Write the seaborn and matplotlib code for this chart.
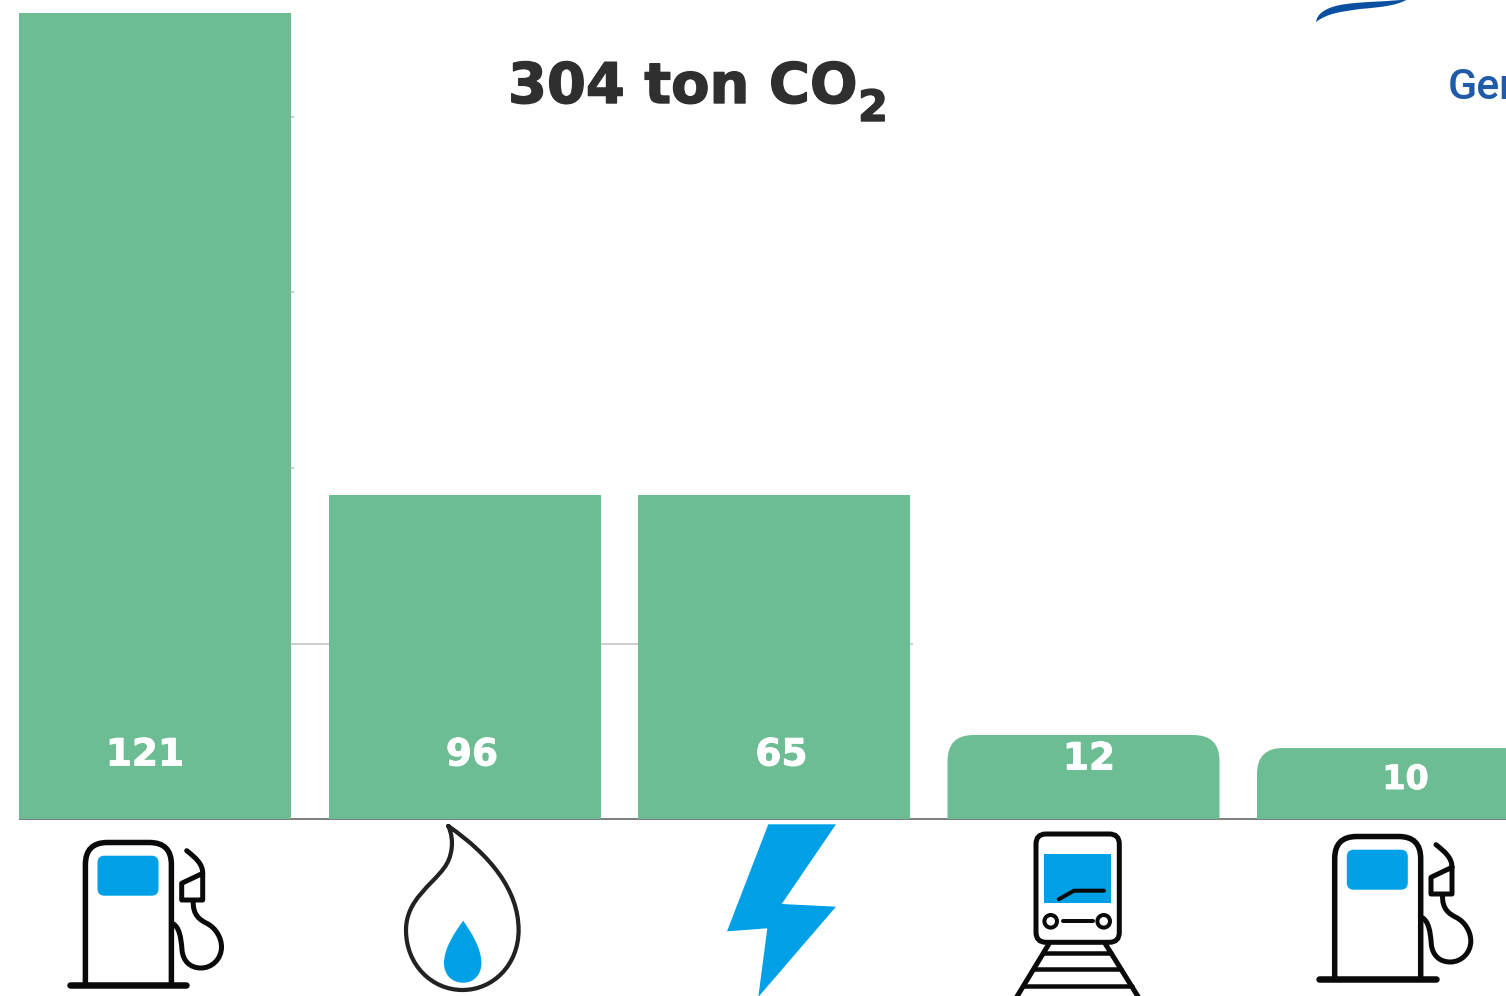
import matplotlib
matplotlib.use('Agg')
import matplotlib.pyplot as plt
import matplotlib.patheffects as pe
import seaborn as sns
import pandas as pd
from matplotlib.path import Path
from matplotlib.patches import PathPatch, FancyBboxPatch, Circle, Polygon

# --- Data ---
categories = ['Benzine', 'Aardgas', 'Elektriciteit', 'Trein', 'Diesel']
bar_heights = [458.7, 184.4, 184.4, 47.8, 40.4]   # drawn height, gridlines every 100
value_labels = ['121', '96', '65', '12', '10']
grid_levels = [100, 200, 300, 400]
title_text = '304 ton CO'
subscript_text = '2'
logo_text = 'Gen'

# --- Configuration ---
W, H = 1506, 996
BAR_COLOR = '#6CBD93'
BLUE = '#00A0E6'
BLACK = '#0A0A0A'
LOGO_BLUE = '#0B50A0'
PX = 0.72  # one pixel in points at dpi 100

BASE_Y = 819          # pixel row of value 0
UNIT_Y = 1.757        # pixels per value unit
STEP_X = 309.5        # pixels between bar centres
FIRST_X = 155         # pixel column of first bar centre

# label pixel positions (centre x, centre y, font size)
label_pos = [(145, 751.5, 27), (472, 751.5, 27), (781.5, 751.5, 27), (1089, 755.5, 27), (1405.5, 776, 24)]


def top_rounded(x0, x1, top, bottom, rx, ry=None):
    # closed outline with rounded top corners
    ry = rx if ry is None else ry
    sign = 1 if bottom > top else -1
    verts = [(x0, bottom), (x0, top + sign * ry), (x0, top), (x0 + rx, top),
             (x1 - rx, top), (x1, top), (x1, top + sign * ry), (x1, bottom)]
    codes = [Path.MOVETO, Path.LINETO, Path.CURVE3, Path.CURVE3,
             Path.LINETO, Path.CURVE3, Path.CURVE3, Path.LINETO]
    return Path(verts, codes)


def stroke(ax, verts, codes=None, lw=4.5, color=BLACK):
    ax.add_patch(PathPatch(Path(verts, codes), fill=False, edgecolor=color, lw=lw * PX,
                           capstyle='round', joinstyle='round'))


# 1. Bars
sns.set_theme(style='white')
df = pd.DataFrame({'category': categories, 'height': bar_heights})

fig = plt.figure(figsize=(W / 100, H / 100), dpi=100, facecolor='white')
ax = fig.add_axes([0, 0, 1, 1])
sns.barplot(data=df, x='category', y='height', color=BAR_COLOR, saturation=1,
            width=272 / STEP_X, ax=ax)
ax.set_xlim(-FIRST_X / STEP_X, (W - FIRST_X) / STEP_X)
ax.set_ylim((BASE_Y - H) / UNIT_Y, BASE_Y / UNIT_Y)
ax.axis('off')

bars = list(ax.patches)
for bar in bars:
    bar.set_edgecolor('none')
    bar.set_zorder(2)

# last two bars have rounded top corners
for bar in bars[-2:]:
    bar.set_visible(False)
    ax.add_patch(PathPatch(top_rounded(bar.get_x(), bar.get_x() + bar.get_width(),
                                       bar.get_height(), 0, 26 / STEP_X, 26 / UNIT_Y),
                           facecolor=BAR_COLOR, edgecolor='none', zorder=2))

# 2. Gridlines (only short stubs are left of them) and baseline
left = bars[0].get_x()
stub = 3 / STEP_X
grid_y = [g - 0.3 for g in grid_levels]  # half a pixel row lower, as in the picture
ax.hlines(grid_y[0], left, bars[2].get_x() + bars[2].get_width() + stub,
          color='#BEBEBE', lw=1.5 * PX, zorder=1)
ax.hlines(grid_y[1:], left, bars[0].get_x() + bars[0].get_width() + stub,
          color='#BEBEBE', lw=1.5 * PX, zorder=1)
ax.hlines(0, left, ax.get_xlim()[1], color='#808080', lw=2 * PX, zorder=1)

# 3. Overlay in pixel coordinates for texts and icons
ov = fig.add_axes([0, 0, 1, 1])
ov.set_xlim(0, W)
ov.set_ylim(H, 0)
ov.axis('off')
ov.patch.set_alpha(0)

# the reference font is a bit heavier than DejaVu Sans Bold
heavier_white = [pe.withStroke(linewidth=0.7, foreground='white')]
heavier_dark = [pe.withStroke(linewidth=1.0, foreground='#2F2F2F')]

for (x, y, size), label in zip(label_pos, value_labels):
    ov.text(x, y, label, color='white', fontsize=size, fontweight='bold',
            family='DejaVu Sans', ha='center', va='center_baseline', path_effects=heavier_white)

ov.text(508, 103, title_text, color='#2F2F2F', fontsize=40.3, fontweight='bold',
        family='DejaVu Sans', ha='left', va='baseline', path_effects=heavier_dark)
ov.text(858, 121, subscript_text, color='#2F2F2F', fontsize=31, fontweight='bold',
        family='DejaVu Sans', ha='left', va='baseline', path_effects=heavier_dark)

# logo remains, cut off by the edge of the picture
ov.text(1448, 98.5, logo_text, color='#1F5BA8', fontsize=31, fontweight='medium', family='Roboto',
        ha='left', va='baseline', clip_on=True)
C4 = Path.CURVE4
ov.add_patch(PathPatch(Path([(1316, 22), (1317, 14), (1325, 8), (1340, 5), (1362, 1), (1390, 2), (1408, -1),
                             (1398, 5), (1385, 7), (1360, 9), (1340, 12), (1328, 13), (1316, 22)],
                            [Path.MOVETO] + [C4] * 12),
                       facecolor=LOGO_BLUE, edgecolor='none'))


# 4. Icons
def draw_pump(dx, dy):
    # body
    ov.add_patch(PathPatch(top_rounded(85.4 + dx, 171.4 + dx, 842.5 + dy, 985 + dy, 22),
                           fill=False, edgecolor=BLACK, lw=5.5 * PX))
    stroke(ov, [(69.6 + dx, 985 + dy), (186.4 + dx, 985 + dy)], lw=6.5)
    # screen
    ov.add_patch(FancyBboxPatch((103.5 + dx, 861.7 + dy), 49, 28,
                                boxstyle='round,pad=6,rounding_size=7',
                                facecolor=BLUE, edgecolor='none'))
    # nozzle
    stroke(ov, [(186.7 + dx, 850.7 + dy), (196 + dx, 858 + dy), (202.7 + dx, 864 + dy),
                (202.7 + dx, 873.3 + dy), (202.7 + dx, 900 + dy), (181.7 + dx, 900 + dy),
                (181.7 + dx, 883.3 + dy), (202.7 + dx, 873.3 + dy)],
           [Path.MOVETO, Path.CURVE4, Path.CURVE4, Path.CURVE4,
            Path.LINETO, Path.LINETO, Path.LINETO, Path.LINETO], lw=5)
    # hose
    stroke(ov, [(193.3 + dx, 901 + dy), (192.5 + dx, 915 + dy), (200 + dx, 920 + dy),
                (206.7 + dx, 923.3 + dy), (216 + dx, 928 + dy), (221.5 + dx, 938 + dy),
                (221.5 + dx, 947 + dy), (221.5 + dx, 959 + dy), (212 + dx, 968 + dy),
                (201 + dx, 968 + dy), (190 + dx, 968 + dy), (183 + dx, 961 + dy),
                (182 + dx, 950 + dy), (181 + dx, 936 + dy), (179 + dx, 928 + dy),
                (173.6 + dx, 924 + dy)],
           [Path.MOVETO] + [C4] * 15, lw=5)


draw_pump(0, 0)
draw_pump(1249.3, -6)

# gas flame
stroke(ov, [(448.2, 826), (455, 840), (452, 858), (444, 868), (432, 885), (406, 900), (406, 930),
            (406, 965), (432, 990), (462.5, 990), (493, 990), (518.6, 965), (518.6, 930),
            (518.6, 890), (490, 855), (448.2, 826)],
       [Path.MOVETO] + [C4] * 15, lw=4.2, color='#222222')
ov.add_patch(PathPatch(Path([(463.2, 920.7), (455, 932), (444, 948), (444, 963), (444, 975), (452, 982.7),
                             (463, 982.7), (474, 982.7), (481.4, 975), (481.4, 963), (481.4, 948),
                             (471, 932), (463.2, 920.7)],
                            [Path.MOVETO] + [C4] * 12),
                       facecolor=BLUE, edgecolor='none'))

# lightning bolt
ov.add_patch(Polygon([(768.3, 824.3), (836, 824.3), (781.7, 904), (836, 906.7), (758.3, 997),
                      (767.3, 928.3), (727, 931.3)], facecolor=BLUE, edgecolor='none'))

# train
ov.add_patch(FancyBboxPatch((1046, 844), 63.3, 88.3, boxstyle='round,pad=10,rounding_size=10',
                            fill=False, edgecolor=BLACK, lw=5 * PX))
ov.add_patch(plt.Rectangle((1044, 854), 67.3, 49.3, facecolor=BLUE, edgecolor='none'))
stroke(ov, [(1058.7, 899.3), (1074, 890.7), (1104, 890.7)], lw=4)
for cx in (1050.7, 1103.7):
    ov.add_patch(Circle((cx, 921.3), 6.3, fill=False, edgecolor=BLACK, lw=4 * PX))
stroke(ov, [(1062.7, 921.3), (1092.7, 921.3)], lw=4)
stroke(ov, [(1049.3, 943.3), (1016.7, 997)], lw=5)
stroke(ov, [(1105, 943.3), (1138.3, 997)], lw=5)
for y, x0, x1 in [(953.3, 1043, 1111.3), (969.3, 1033.2, 1121), (986, 1022.9, 1131.6)]:
    stroke(ov, [(x0, y), (x1, y)], lw=4.5)

fig.savefig('out.png', dpi=100)
